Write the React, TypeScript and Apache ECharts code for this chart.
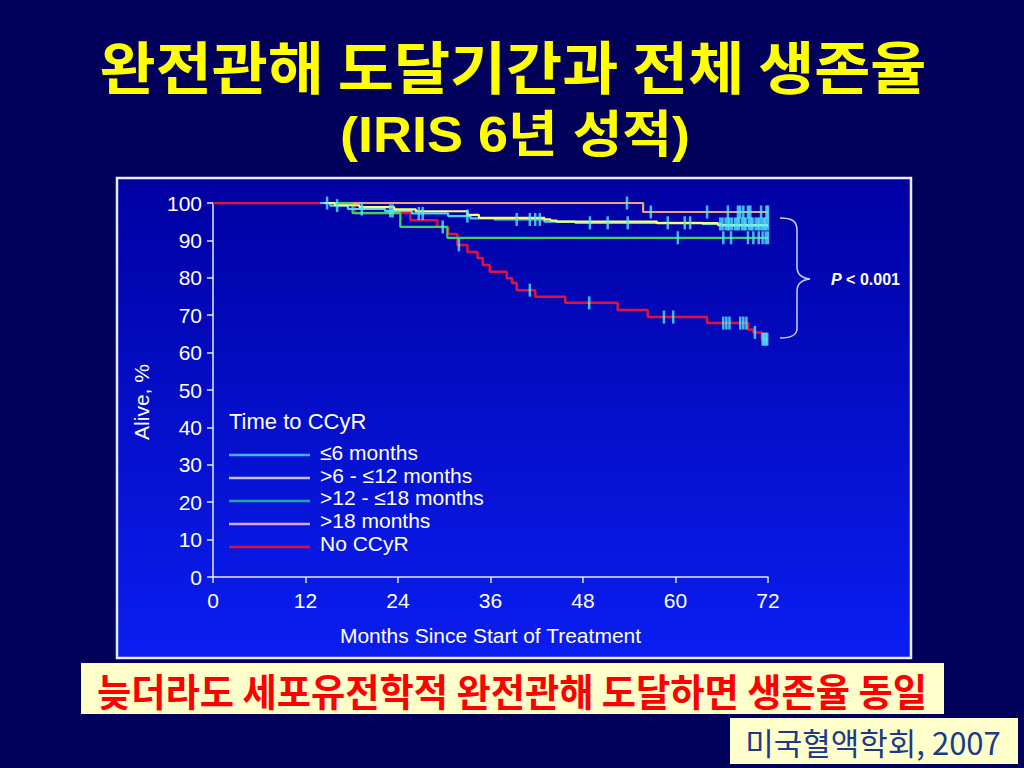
import React, { useEffect, useRef } from "react";
import * as echarts from "echarts";

// ---- text ----
const titleLine1 = "완전관해 도달기간과 전체 생존율";
const titleLine2 = "(IRIS 6년 성적)";
const xAxisName = "Months Since Start of Treatment";
const yAxisName = "Alive, %";
const legendTitle = "Time to CCyR";
const pValueText = "< 0.001";
const noteText = "늦더라도 세포유전학적 완전관해 도달하면 생존율 동일";
const sourceText = "미국혈액학회, 2007";

// ---- axes ----
const xMin = 0;
const xMax = 72;
const xStep = 12;
const yMin = 0;
const yMax = 100;
const yStep = 10;

// ---- series ----
const seriesNames = ["≤6 months", ">6 - ≤12 months", ">12 - ≤18 months", ">18 months", "No CCyR"];
const legendColors = ["#44b2f4", "#c6c0d8", "#26a4a0", "#dca6e6", "#d81048"];
const lineColors = ["#4cd2ff", "#ffff6a", "#3ed45e", "#f2a27a", "#e3123c"];
const censorColor = "#52e6ff";

// Kaplan-Meier curves: [month, % alive after the step]
const le6Curve = [
  [13.9, 100], [15.2, 99.3], [17.5, 98.4], [22.3, 97.9], [25.8, 97.2], [30.5, 96.5],
  [33.4, 95.9], [36.5, 95.6], [43.0, 95.0], [47.0, 94.7], [63.5, 94.4], [66.0, 94.0], [72, 94.0],
];
const gt6le12Curve = [
  [14.5, 100], [15.8, 99.4], [19.0, 98.9], [23.5, 98.3], [26.3, 97.8], [33.0, 96.8],
  [34.5, 96.0], [43.0, 95.6], [43.8, 95.3], [44.6, 95.0], [57.6, 94.6], [65.5, 94.1], [72, 94.1],
];
const gt12le18Curve = [
  [15.5, 100], [18.1, 97.3], [24.3, 93.6], [30.4, 90.7], [72, 90.7],
];
const gt18Curve = [
  [18, 100], [55.8, 97.6], [72, 97.6],
];
const noCcyrCurve = [
  [0, 100], [18.4, 97.3], [25.6, 95.4], [29.1, 93.6], [30.5, 91.7], [31.7, 88.8],
  [33.0, 86.9], [34.3, 85.3], [35.0, 83.4], [35.9, 81.6], [38.1, 79.9], [38.8, 78.6],
  [39.4, 76.7], [41.8, 74.9], [45.7, 73.3], [52.5, 71.4], [56.4, 69.5], [64.1, 67.9],
  [69.4, 66.2], [70.1, 65.4], [71.2, 63.6], [72, 63.6],
];

// censored observations: [month, % alive]
const le6Censored = [
  [14.8, 100], [16.1, 99.3], [19.3, 98.4], [23.0, 97.9], [23.3, 97.9], [26.7, 97.2],
  [27.2, 97.2], [33.0, 96.5], [39.4, 95.6], [41.1, 95.6], [41.8, 95.6], [42.4, 95.6],
  [48.9, 94.7], [51.2, 94.7], [53.8, 94.7], [59.0, 94.7], [61.2, 94.7], [61.9, 94.7],
  [65.8, 94.4], [66.1, 94.4], [66.5, 94.4], [66.8, 94.4], [67.0, 94.4], [67.3, 94.4],
  [67.7, 94.4], [68.0, 94.4], [68.2, 94.4], [68.6, 94.4], [68.9, 94.4], [69.1, 94.4],
  [69.5, 94.4], [69.8, 94.4], [70.0, 94.4], [70.4, 94.4], [70.7, 94.4], [70.9, 94.4],
  [71.2, 94.4], [71.5, 94.4], [71.7, 94.4], [72.0, 94.4],
];
const gt12le18Censored = [
  [60.3, 90.7], [66.2, 90.7], [67.2, 90.7], [69.4, 90.7], [70.1, 90.7], [70.8, 90.7],
  [71.3, 90.7], [71.7, 90.7], [72.0, 90.7],
];
const gt18Censored = [
  [53.7, 100], [56.8, 97.6], [64.1, 97.6], [66.8, 97.6], [68.1, 97.6], [68.4, 97.6],
  [68.8, 97.6], [69.4, 97.6], [69.7, 97.6], [71.1, 97.6], [71.8, 97.6], [72.0, 97.6],
];
const noCcyrCensored = [
  [29.8, 93.6], [31.9, 88.8], [41.1, 76.7], [48.8, 73.3], [58.5, 69.5], [59.7, 69.5],
  [66.2, 67.9], [66.6, 67.9], [67.0, 67.9], [68.4, 67.9], [68.8, 67.9], [69.2, 67.9],
  [70.3, 65.4], [71.3, 63.6], [71.5, 63.6], [71.7, 63.6], [71.9, 63.6],
];

const curves = [le6Curve, gt6le12Curve, gt12le18Curve, gt18Curve, noCcyrCurve];
const censored = [le6Censored, [], gt12le18Censored, gt18Censored, noCcyrCensored];
const drawOrder = [4, 3, 2, 0, 1];

const latin = "'Liberation Sans', Arial, Helvetica, sans-serif";
const korean = "'Noto Sans CJK KR', 'Liberation Sans', sans-serif";
const latinKorean = "'Liberation Sans', 'Noto Sans CJK KR', sans-serif";

echarts.graphic.registerShape(
  "brace",
  echarts.graphic.extendPath(
    "M780,218 C792,218 797,221 797,230 L797,267 C797,274 801,278 810,279 C801,280 797,284 797,291 L797,328 C797,335 792,338 780,338",
    {}
  )
);

export default function App() {
  const ref = useRef<HTMLDivElement>(null);

  useEffect(() => {
    if (!ref.current) return;
    const chart = echarts.init(ref.current, undefined, { renderer: "svg" });

    const lineSeries = drawOrder.map((i) => ({
      name: seriesNames[i],
      type: "line",
      step: "end",
      data: curves[i],
      showSymbol: false,
      symbol: "none",
      silent: true,
      z: 3,
      lineStyle: { color: lineColors[i], width: i === 4 ? 2.5 : 2.2 },
      itemStyle: { color: lineColors[i] },
    }));

    const censorSeries = drawOrder
      .filter((i) => censored[i].length > 0)
      .map((i) => ({
        name: seriesNames[i] + " censored",
        type: "scatter",
        data: censored[i],
        symbol: "rect",
        symbolSize: [2.5, 13],
        silent: true,
        z: 4,
        itemStyle: { color: censorColor },
      }));

    const legendItems: any[] = [];
    legendItems.push({
      type: "text",
      x: 229,
      y: 421,
      style: { text: legendTitle, fill: "#ffffff", font: `22px ${latin}`, align: "left", verticalAlign: "middle" },
    });
    const legendLineY = [455, 478, 501, 524, 547];
    const legendTextY = [452, 475, 497, 520, 543];
    seriesNames.forEach((name, i) => {
      legendItems.push({
        type: "line",
        shape: { x1: 229, y1: legendLineY[i], x2: 310, y2: legendLineY[i] },
        style: { stroke: legendColors[i], lineWidth: 2.5 },
      });
      legendItems.push({
        type: "text",
        x: 320,
        y: legendTextY[i],
        style: {
          text: name,
          fill: "#ffffff",
          font: `21px ${latin}`,
          align: "left",
          verticalAlign: "middle",
          lineHeight: 21,
        },
      });
    });

    chart.setOption({
      animation: false,
      backgroundColor: "#01015c",
      grid: { left: 213, right: 256, top: 203, bottom: 191, containLabel: false },
      xAxis: {
        type: "value",
        min: xMin,
        max: xMax,
        interval: xStep,
        name: xAxisName,
        nameLocation: "middle",
        nameGap: 48,
        nameTextStyle: { color: "#ffffff", fontSize: 21, fontFamily: latin },
        axisLine: { show: true, onZero: false, lineStyle: { color: "#e6e8f4", width: 1.5 } },
        axisTick: { show: true, length: 6, lineStyle: { color: "#e6e8f4", width: 1.5 } },
        axisLabel: { color: "#ffffff", fontSize: 21, fontFamily: latin, margin: 13 },
        splitLine: { show: false },
      },
      yAxis: {
        type: "value",
        min: yMin,
        max: yMax,
        interval: yStep,
        axisLine: { show: true, lineStyle: { color: "#e6e8f4", width: 1.5 } },
        axisTick: { show: true, length: 6, lineStyle: { color: "#e6e8f4", width: 1.5 } },
        axisLabel: { color: "#ffffff", fontSize: 21, fontFamily: latin, margin: 11 },
        splitLine: { show: false },
      },
      series: [...lineSeries, ...censorSeries],
      graphic: [
        {
          type: "rect",
          z: -10,
          shape: { x: 117, y: 178, width: 794, height: 480 },
          style: {
            fill: new echarts.graphic.LinearGradient(0, 0, 0, 1, [
              { offset: 0, color: "#0000a2" },
              { offset: 1, color: "#0a1ef2" },
            ]),
            stroke: "#e8ecf8",
            lineWidth: 2.5,
          },
        },
        {
          type: "text",
          x: 513,
          y: 64,
          scaleX: 1.07,
          style: {
            text: titleLine1,
            fill: "#ffff00",
            font: `bold 57px ${korean}`,
            align: "center",
            verticalAlign: "middle",
          },
        },
        {
          type: "text",
          x: 515,
          y: 135,
          scaleX: 1.08,
          style: {
            text: titleLine2,
            fill: "#ffff00",
            font: `bold 50px ${latinKorean}`,
            align: "center",
            verticalAlign: "middle",
          },
        },
        {
          type: "text",
          x: 141,
          y: 402,
          rotation: Math.PI / 2,
          style: { text: yAxisName, fill: "#ffffff", font: `21px ${latin}`, align: "center", verticalAlign: "middle" },
        },
        ...legendItems,
        {
          type: "brace",
          x: 0,
          y: 0,
          style: { fill: "none", stroke: "#c8d0ec", lineWidth: 1.5 },
        },
        {
          type: "text",
          x: 831,
          y: 279,
          style: {
            text: "{p|P} " + pValueText,
            fill: "#ffffff",
            font: `bold 16px ${latin}`,
            align: "left",
            verticalAlign: "middle",
            rich: { p: { fontStyle: "italic", fontWeight: "bold", fontSize: 16, fontFamily: latin, fill: "#ffffff" } },
          },
        },
        {
          type: "rect",
          shape: { x: 81, y: 663, width: 863, height: 51 },
          style: { fill: "#ffffcc" },
        },
        {
          type: "text",
          x: 512,
          y: 689,
          scaleX: 0.98,
          style: { text: noteText, fill: "#ff0000", font: `bold 38px ${korean}`, align: "center", verticalAlign: "middle", lineHeight: 40 },
        },
        {
          type: "rect",
          shape: { x: 730, y: 718, width: 288, height: 46 },
          style: { fill: "#ffffcc" },
        },
        {
          type: "text",
          x: 873,
          y: 741,
          style: { text: sourceText, fill: "#1c3a8c", font: `31px ${korean}`, align: "center", verticalAlign: "middle", lineHeight: 34 },
        },
      ],
    });

    return () => chart.dispose();
  }, []);

  return <div ref={ref} style={{ position: "fixed", left: 0, top: 0, width: 1024, height: 768 }} />;
}
